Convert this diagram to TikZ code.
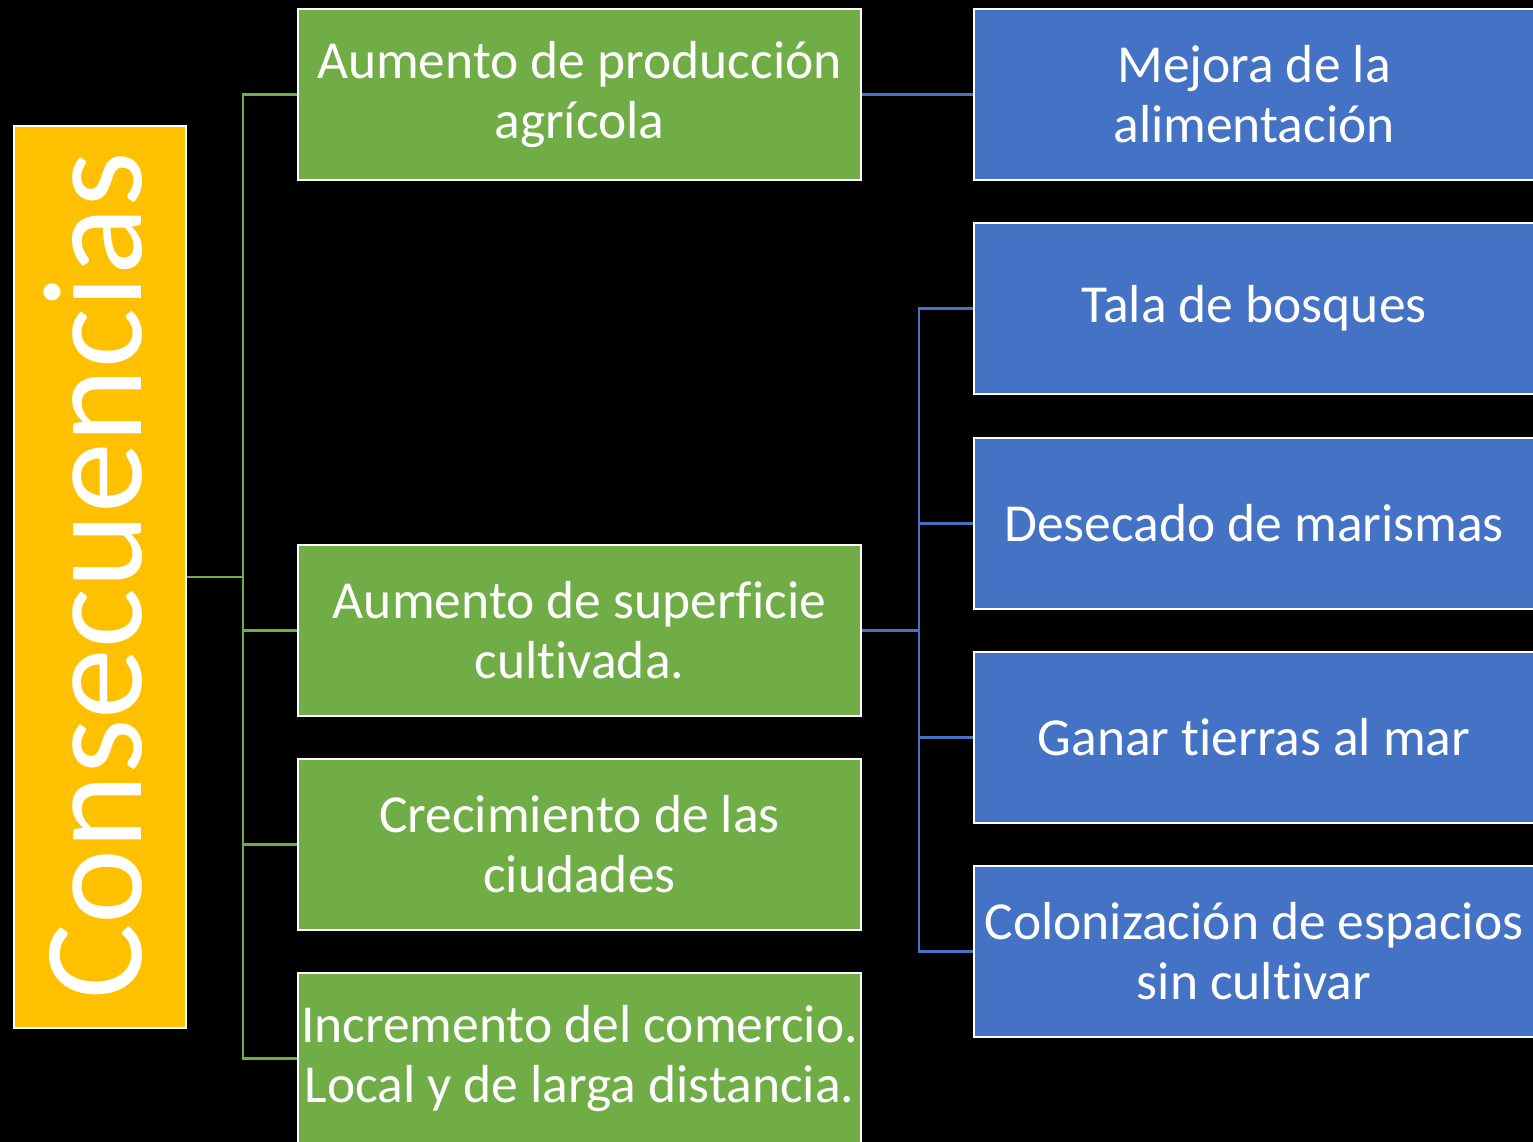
\documentclass[tikz,border=0pt]{standalone}
\usepackage{fontspec}
\setmainfont{Carlito}[Ligatures={NoCommon}]
\definecolor{ygold}{HTML}{FFC000}
\definecolor{ggreen}{HTML}{70AD47}
\definecolor{bblue}{HTML}{4472C4}
\newcommand{\rsh}{\hspace*{40pt}}
\begin{document}
\begin{tikzpicture}[x=1pt,y=-1pt,
  box/.style={draw=white,line width=2pt,text=white,align=center,inner sep=0pt,
    font=\fontsize{53.5}{60}\selectfont},
  gbox/.style={box,fill=ggreen,minimum width=563pt,minimum height=171pt},
  bbox/.style={box,fill=bblue,minimum width=600pt,minimum height=171pt},
  gline/.style={draw=ggreen,line width=2.4pt},
  bline/.style={draw=bblue,line width=2.4pt}]
\fill[black] (0,0) rectangle (1533,1142);
\clip (0,0) rectangle (1533,1142);
\useasboundingbox (0,0) rectangle (1533,1142);
% main box
\node[box,fill=ygold,minimum width=172pt,minimum height=902pt,anchor=north west] (main) at (13,125) {};
\node[text=white,rotate=90,font=\fontsize{142}{150}\selectfont,inner sep=0pt] (maint) at (93,576) {Consecuencias};
% green boxes
\node[gbox,anchor=north west] (g1) at (297,8) {Aumento de producción\\agrícola};
\node[gbox,anchor=north west] (g2) at (297,544) {Aumento de superficie\\cultivada.};
\node[gbox,anchor=north west] (g3) at (297,758) {Crecimiento de las\\ciudades};
\node[gbox,anchor=north west] (g4) at (297,972) {Incremento del comercio.\\Local y de larga distancia.};
% blue boxes
\node[bbox,anchor=north west] (b1) at (973,8) {Mejora de la\rsh\\alimentación\rsh};
\node[bbox,anchor=north west] (b2) at (973,222) {Tala de bosques\rsh};
\node[bbox,anchor=north west] (b3) at (973,437) {Desecado de marismas\rsh};
\node[bbox,anchor=north west] (b4) at (973,651) {Ganar tierras al mar\rsh};
\node[bbox,anchor=north west] (b5) at (973,865) {Colonización de espacios\rsh\\sin cultivar\rsh};
% green connectors
\path (main.east) ++(56,0) coordinate (gj);
\draw[gline] (main.east) -- (gj);
\draw[gline] (gj) |- (g1.west);
\draw[gline] (gj) |- (g2.west);
\draw[gline] (gj) |- (g3.west);
\draw[gline] (gj) |- (g4.west);
% blue connectors
\draw[bline] (g1.east) -- (b1.west);
\path (g2.east) ++(57,0) coordinate (bj);
\draw[bline] (g2.east) -- (bj);
\draw[bline] (bj) |- (b2.west);
\draw[bline] (bj) |- (b3.west);
\draw[bline] (bj) |- (b4.west);
\draw[bline] (bj) |- (b5.west);
\end{tikzpicture}
\end{document}
